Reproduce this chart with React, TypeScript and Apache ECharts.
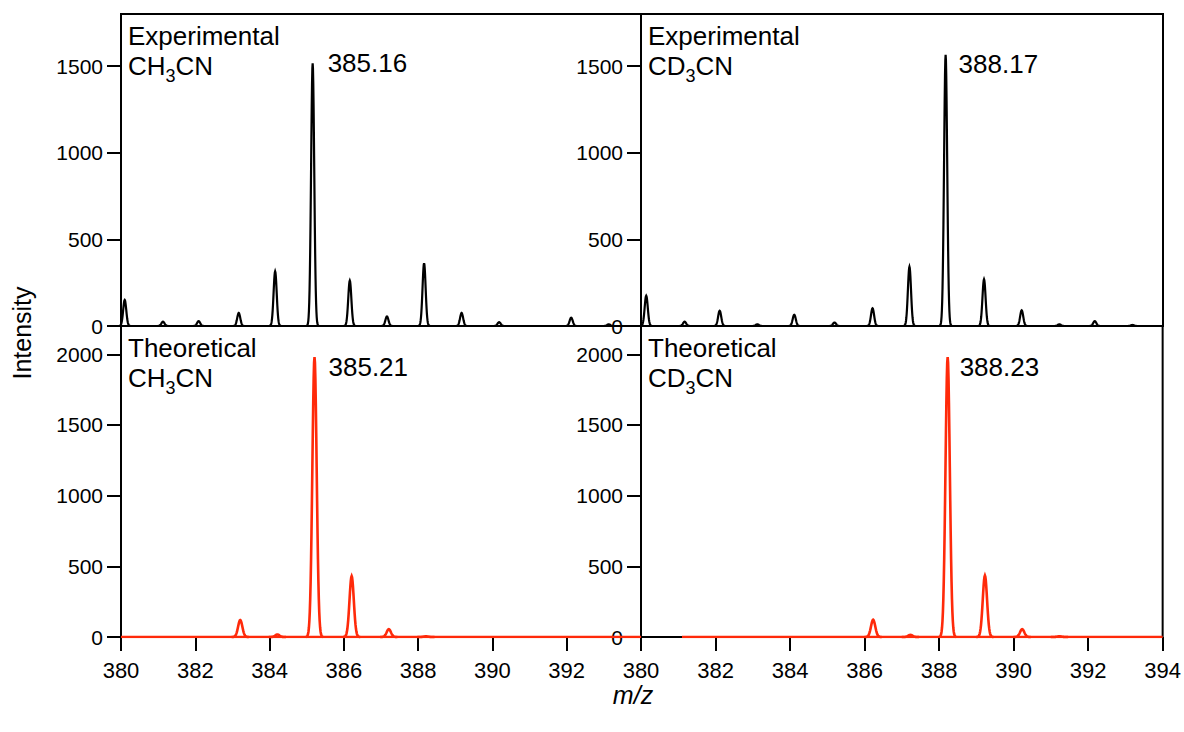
import React, { useEffect, useRef } from "react";
import * as echarts from "echarts";

// m/z axis and intensity ticks
const mzTicks = [380, 382, 384, 386, 388, 390, 392, 394];
const mzLabelsLeft = [380, 382, 384, 386, 388, 390, 392];
const expTicks = [0, 500, 1000, 1500];
const theoTicks = [0, 500, 1000, 1500, 2000];

// Peak lists: [m/z, intensity]
const expCH3CN: [number, number][] = [
  [380.1, 150], [381.13, 25], [382.09, 28], [383.17, 75], [384.15, 315],
  [385.16, 1516], [386.16, 262], [387.16, 55], [388.16, 362], [389.17, 75],
  [390.18, 22], [392.12, 48], [393.13, 10],
];
const expCD3CN: [number, number][] = [
  [380.14, 175], [381.17, 25], [382.11, 88], [383.12, 10], [384.11, 65],
  [385.19, 20], [386.21, 102], [387.2, 342], [388.17, 1565], [389.2, 270],
  [390.21, 90], [391.22, 10], [392.17, 28], [393.18, 6],
];
const theoCH3CN: [number, number][] = [
  [383.21, 120], [384.21, 18], [385.21, 1980], [386.21, 430], [387.21, 55], [388.21, 5],
];
const theoCD3CN: [number, number][] = [
  [386.23, 122], [387.23, 15], [388.23, 1980], [389.23, 435], [390.23, 55], [391.23, 5],
];
// extent of the simulated traces' flat baseline
const theoBaseCH3CN: [number, number][] = [[380, 0], [394, 0]];
const theoBaseCD3CN: [number, number][] = [[381.1, 0], [394, 0]];

// labelled main peaks
const mainExpCH3CN: [number, number] = [385.16, 1516];
const mainExpCD3CN: [number, number] = [388.17, 1565];
const mainTheoCH3CN: [number, number] = [385.21, 1980];
const mainTheoCD3CN: [number, number] = [388.23, 1980];

const FONT = "'Liberation Sans', Arial, Helvetica, sans-serif";
const RED = "#ff2a0a";

function peakRenderer(sigma: number, color: string, width: number) {
  return (_params: any, api: any) => {
    const mz = api.value(0);
    const h = api.value(1);
    const n = 40;
    const pts: number[][] = [];
    for (let i = 0; i <= n; i++) {
      const dx = -4 * sigma + (8 * sigma * i) / n;
      pts.push(api.coord([mz + dx, h * Math.exp((-dx * dx) / (2 * sigma * sigma))]));
    }
    return {
      type: "polyline",
      shape: { points: pts },
      style: { stroke: color, lineWidth: width, fill: "none" },
    };
  };
}

function labelRenderer(dx: number, dy: number) {
  return (_params: any, api: any) => {
    const p = api.coord([api.value(0), api.value(1)]);
    return {
      type: "text",
      x: p[0] + dx,
      y: p[1] + dy,
      style: {
        text: Number(api.value(0)).toFixed(2),
        font: `26px ${FONT}`,
        fill: "#000",
        align: "left",
        verticalAlign: "middle",
        textAlign: "left",
        textVerticalAlign: "middle",
      },
    };
  };
}

function titleGroup(x: number, y: number, word: string, mol: string) {
  const big = `26px ${FONT}`;
  const small = `18px ${FONT}`;
  const mk = (tx: number, ty: number, text: string, font: string) => ({
    type: "text",
    x: tx,
    y: ty,
    style: {
      text,
      font,
      fill: "#000",
      align: "left",
      verticalAlign: "middle",
      textAlign: "left",
      textVerticalAlign: "middle",
    },
  });
  return {
    type: "group",
    x,
    y,
    silent: true,
    children: [
      mk(0, 0, word, big),
      mk(0, 30, mol, big),
      mk(37.5, 40, "3", small),
      mk(47.5, 30, "CN", big),
    ],
  };
}

export default function App() {
  const ref = useRef<HTMLDivElement>(null);

  useEffect(() => {
    if (!ref.current) return;
    const chart = echarts.init(ref.current, undefined, { renderer: "svg" });

    const grids = [
      { left: 121, top: 14, width: 520, height: 312 },
      { left: 641, top: 14, width: 522, height: 312 },
      { left: 121, top: 326, width: 520, height: 311 },
      { left: 641, top: 326, width: 522, height: 311 },
    ].map((g) => ({
      ...g,
      show: true,
      borderColor: "#000",
      borderWidth: 2,
      backgroundColor: "transparent",
      containLabel: false,
    }));

    const plain = (v: number) => String(v);

    const xAxis = [0, 1, 2, 3].map((i) => {
      const bottom = i >= 2;
      return {
        type: "value",
        gridIndex: i,
        min: 380,
        max: 394,
        interval: 2,
        show: bottom,
        axisLine: { show: false },
        splitLine: { show: false },
        axisTick: {
          show: bottom,
          inside: false,
          length: 14,
          customValues: mzTicks,
          lineStyle: { color: "#000", width: 2 },
        },
        axisLabel: {
          show: bottom,
          margin: 22,
          fontSize: 22,
          fontFamily: FONT,
          color: "#000",
          formatter: plain,
          customValues: i === 2 ? mzLabelsLeft : mzTicks,
        },
      };
    });

    const yAxis = [0, 1, 2, 3].map((i) => {
      const top = i < 2;
      const ticks = top ? expTicks : theoTicks;
      return {
        type: "value",
        gridIndex: i,
        min: 0,
        max: top ? 1800 : 2200,
        axisLine: { show: false },
        splitLine: { show: false },
        axisTick: {
          show: true,
          inside: false,
          length: 14,
          customValues: ticks,
          lineStyle: { color: "#000", width: 2 },
        },
        axisLabel: {
          show: true,
          margin: 18,
          fontSize: 21,
          fontFamily: FONT,
          color: "#000",
          formatter: plain,
          customValues: ticks,
        },
      };
    });

    const peakSeries = (idx: number, data: [number, number][], sigma: number, color: string, width: number) => ({
      type: "custom",
      xAxisIndex: idx,
      yAxisIndex: idx,
      data,
      encode: { x: 0, y: 1 },
      renderItem: peakRenderer(sigma, color, width),
      silent: true,
      z: 3,
    });

    const baseSeries = (idx: number, data: [number, number][]) => ({
      type: "line",
      xAxisIndex: idx,
      yAxisIndex: idx,
      data,
      symbol: "none",
      lineStyle: { color: RED, width: 2.5 },
      silent: true,
      z: 3,
    });

    const labelSeries = (idx: number, peak: [number, number], dx: number, dy: number) => ({
      type: "custom",
      xAxisIndex: idx,
      yAxisIndex: idx,
      data: [peak],
      encode: { x: 0, y: 1 },
      renderItem: labelRenderer(dx, dy),
      silent: true,
      z: 4,
    });

    chart.setOption({
      animation: false,
      backgroundColor: "#fff",
      grid: grids,
      xAxis,
      yAxis,
      series: [
        peakSeries(0, expCH3CN, 0.042, "#000", 2.2),
        peakSeries(1, expCD3CN, 0.042, "#000", 2.2),
        baseSeries(2, theoBaseCH3CN),
        baseSeries(3, theoBaseCD3CN),
        peakSeries(2, theoCH3CN, 0.058, RED, 2.6),
        peakSeries(3, theoCD3CN, 0.058, RED, 2.6),
        labelSeries(0, mainExpCH3CN, 15, 0),
        labelSeries(1, mainExpCD3CN, 13, 9),
        labelSeries(2, mainTheoCH3CN, 14, 10),
        labelSeries(3, mainTheoCD3CN, 12, 10),
      ],
      graphic: [
        titleGroup(128, 36, "Experimental", "CH"),
        titleGroup(648, 36, "Experimental", "CD"),
        titleGroup(128, 348, "Theoretical", "CH"),
        titleGroup(648, 348, "Theoretical", "CD"),
        {
          type: "text",
          x: 22,
          y: 333,
          rotation: Math.PI / 2,
          silent: true,
          style: {
            text: "Intensity",
            font: `25px ${FONT}`,
            fill: "#000",
            align: "center",
            verticalAlign: "middle",
            textAlign: "center",
            textVerticalAlign: "middle",
          },
        },
        {
          type: "text",
          x: 633,
          y: 695,
          silent: true,
          style: {
            text: "m/z",
            font: `italic 25px ${FONT}`,
            fill: "#000",
            align: "center",
            verticalAlign: "middle",
            textAlign: "center",
            textVerticalAlign: "middle",
          },
        },
      ],
    });

    return () => chart.dispose();
  }, []);

  return (
    <div
      ref={ref}
      style={{ position: "absolute", left: 0, top: 0, width: 1184, height: 732 }}
    />
  );
}
